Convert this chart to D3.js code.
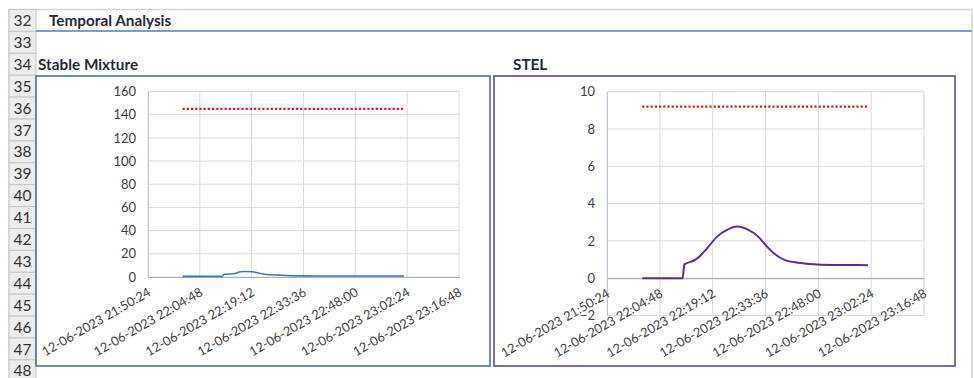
<!DOCTYPE html>
<html>
<head>
<meta charset="utf-8">
<script src="https://cdn.jsdelivr.net/npm/d3@7"></script>
<style>
  body { margin: 0; background: #fff; }
  svg { display: block; }
  text { font-family: Lato, "Open Sans", sans-serif; }
</style>
</head>
<body>
<svg id="sheet" width="974" height="378"></svg>
<script>
// ---- sheet content ----
const rowNumbers = d3.range(32, 49);
const sheetTitle = "Temporal Analysis";
const mixtureTitle = "Stable Mixture";
const stelTitle = "STEL";

// ---- shared time axis ----
const runDay = "2023-06-12";
const xTickTimes = ["21:50:24", "22:04:48", "22:19:12", "22:33:36", "22:48:00", "23:02:24", "23:16:48"];

// ---- Stable Mixture concentration ----
const mixtureTimes  = ["22:00:00", "22:11:00", "22:11:30", "22:14:30", "22:16:00", "22:17:30", "22:19:20", "22:21:00", "22:23:00", "22:27:00", "22:32:30", "22:40:00", "23:01:30"];
const mixtureValues = [0.5, 0.5, 2.3, 3.0, 4.5, 4.8, 4.5, 3.5, 2.2, 1.6, 1.0, 0.8, 0.8];
const mixtureLimit = 145;
const mixtureYTicks = [0, 20, 40, 60, 80, 100, 120, 140, 160];

// ---- STEL ----
const stelTimes  = ["22:00:00", "22:11:00", "22:11:30", "22:13:30", "22:15:12", "22:17:40", "22:20:24", "22:23:06", "22:26:00", "22:28:48", "22:31:36", "22:34:00", "22:36:12", "22:38:54", "22:42:30", "22:47:36", "22:55:00", "23:01:30"];
const stelValues = [0, 0, 0.74, 0.9, 1.09, 1.6, 2.23, 2.59, 2.77, 2.6, 2.23, 1.69, 1.28, 0.97, 0.83, 0.74, 0.71, 0.70];
const stelLimit = 9.2;
const stelYTicks = [-2, 0, 2, 4, 6, 8, 10];

// limit line spans the measurement window
const limitTimes = ["22:00:00", "23:01:30"];

const parseTime = d3.timeParse("%Y-%m-%d %H:%M:%S");
const at = t => parseTime(runDay + " " + t);
const fmt = d3.timeFormat("%d-%m-%Y %H:%M:%S");

const svg = d3.select("#sheet");

// ---- spreadsheet frame ----
const rowTop = 9.5, rowH = 21.9, headL = 9, headR = 36;
svg.append("rect").attr("x", 0).attr("y", 0).attr("width", 974).attr("height", 378).attr("fill", "#fff");
svg.append("rect").attr("x", headL).attr("y", rowTop).attr("width", 972 - headL).attr("height", 378)
  .attr("fill", "none").attr("stroke", "#d6d6d6").attr("stroke-width", 1.5);

const rows = svg.append("g");
rowNumbers.forEach((n, i) => {
  const y = rowTop + i * rowH;
  rows.append("rect").attr("x", headL).attr("y", y).attr("width", headR - headL).attr("height", rowH)
    .attr("fill", "#ececec").attr("stroke", "#c6c6c6").attr("stroke-width", 1);
  rows.append("text").attr("x", (headL + headR) / 2).attr("y", y + rowH / 2).attr("dy", "0.36em")
    .attr("text-anchor", "middle").attr("font-size", 15.5).attr("fill", "#333").text(n);
});

// title row
svg.append("text").attr("x", 49).attr("y", rowTop + rowH / 2).attr("dy", "0.36em")
  .attr("font-size", 15.3).attr("font-weight", "bold").attr("fill", "#1f2a44").text(sheetTitle);
svg.append("line").attr("x1", headR).attr("x2", 972).attr("y1", 31).attr("y2", 31)
  .attr("stroke", "#7e9cd2").attr("stroke-width", 2);

// chart captions (row 34)
svg.append("text").attr("x", 38).attr("y", rowTop + 2 * rowH + rowH / 2).attr("dy", "0.36em")
  .attr("font-size", 15.3).attr("font-weight", "bold").attr("fill", "#1f2a44").text(mixtureTitle);
svg.append("text").attr("x", 513).attr("y", rowTop + 2 * rowH + rowH / 2).attr("dy", "0.36em")
  .attr("font-size", 15.3).attr("font-weight", "bold").attr("fill", "#1f2a44").text(stelTitle);

// ---- chart drawing ----
function drawChart(cfg) {
  const g = svg.append("g");
  g.append("rect").attr("x", cfg.box[0]).attr("y", cfg.box[1])
    .attr("width", cfg.box[2] - cfg.box[0]).attr("height", cfg.box[3] - cfg.box[1])
    .attr("fill", "#fff").attr("stroke", cfg.boxColor).attr("stroke-width", 1.6);

  const x = d3.scaleTime().domain([at(xTickTimes[0]), at(xTickTimes[xTickTimes.length - 1])])
    .range([cfg.plot[0], cfg.plot[2]]);
  const y = d3.scaleLinear().domain([cfg.yTicks[0], cfg.yTicks[cfg.yTicks.length - 1]])
    .range([cfg.plot[3], cfg.plot[1]]);
  const tickDates = xTickTimes.map(at);

  // horizontal gridlines
  g.append("g").selectAll("line").data(cfg.yTicks).join("line")
    .attr("x1", cfg.plot[0]).attr("x2", cfg.plot[2])
    .attr("y1", d => y(d)).attr("y2", d => y(d))
    .attr("stroke", "#d9dbe0").attr("stroke-width", 1);
  // vertical gridlines
  g.append("g").selectAll("line").data(tickDates).join("line")
    .attr("x1", d => x(d)).attr("x2", d => x(d))
    .attr("y1", cfg.plot[1]).attr("y2", cfg.plot[3])
    .attr("stroke", "#d9dbe0").attr("stroke-width", 1);

  // value axis labels
  const yAxis = g.append("g").attr("transform", `translate(${cfg.plot[0]},0)`)
    .call(d3.axisLeft(y).tickValues(cfg.yTicks).tickSize(0).tickPadding(12));
  yAxis.select(".domain").attr("stroke", "#c3c8d0");
  yAxis.selectAll("text").attr("font-size", 13).attr("fill", "#404040").attr("font-family", "Lato, sans-serif");

  // time axis at value 0
  const y0 = y(0);
  const xAxis = g.append("g").attr("transform", `translate(0,${y0})`)
    .call(d3.axisBottom(x).tickValues(tickDates).tickFormat(fmt).tickSize(0));
  xAxis.select(".domain").attr("stroke", "#a9b2c0").attr("stroke-width", 1.2);
  xAxis.selectAll("text")
    .attr("x", 0).attr("y", 0).attr("dy", "0.35em")
    .attr("text-anchor", "end")
    .attr("transform", "translate(1,14) rotate(-30)")
    .attr("font-size", 12.8).attr("fill", "#404040").attr("font-family", "Lato, sans-serif");

  // limit line
  const limitDates = limitTimes.map(at);
  g.append("line")
    .attr("x1", x(limitDates[0])).attr("x2", x(limitDates[1]))
    .attr("y1", y(cfg.limit)).attr("y2", y(cfg.limit))
    .attr("stroke", "#e01b1b").attr("stroke-width", 2.4).attr("stroke-dasharray", "2.2,2");

  // measured series
  const pts = cfg.times.map((t, i) => [at(t), cfg.values[i]]);
  g.append("path").datum(pts)
    .attr("fill", "none").attr("stroke", cfg.lineColor).attr("stroke-width", cfg.lineWidth)
    .attr("stroke-linejoin", "round")
    .attr("d", d3.line().x(d => x(d[0])).y(d => y(d[1])).curve(d3.curveMonotoneX));
}

drawChart({
  box: [36, 76, 490, 366], plot: [148, 91.5, 459, 277],
  boxColor: "#4a6cb0", yTicks: mixtureYTicks, limit: mixtureLimit,
  times: mixtureTimes, values: mixtureValues, lineColor: "#4472c4", lineWidth: 1.6
});
drawChart({
  box: [494, 76, 955, 366], plot: [607, 91.7, 924, 315.5],
  boxColor: "#604a8e", yTicks: stelYTicks, limit: stelLimit,
  times: stelTimes, values: stelValues, lineColor: "#5b2d8e", lineWidth: 2
});
</script>
</body>
</html>
